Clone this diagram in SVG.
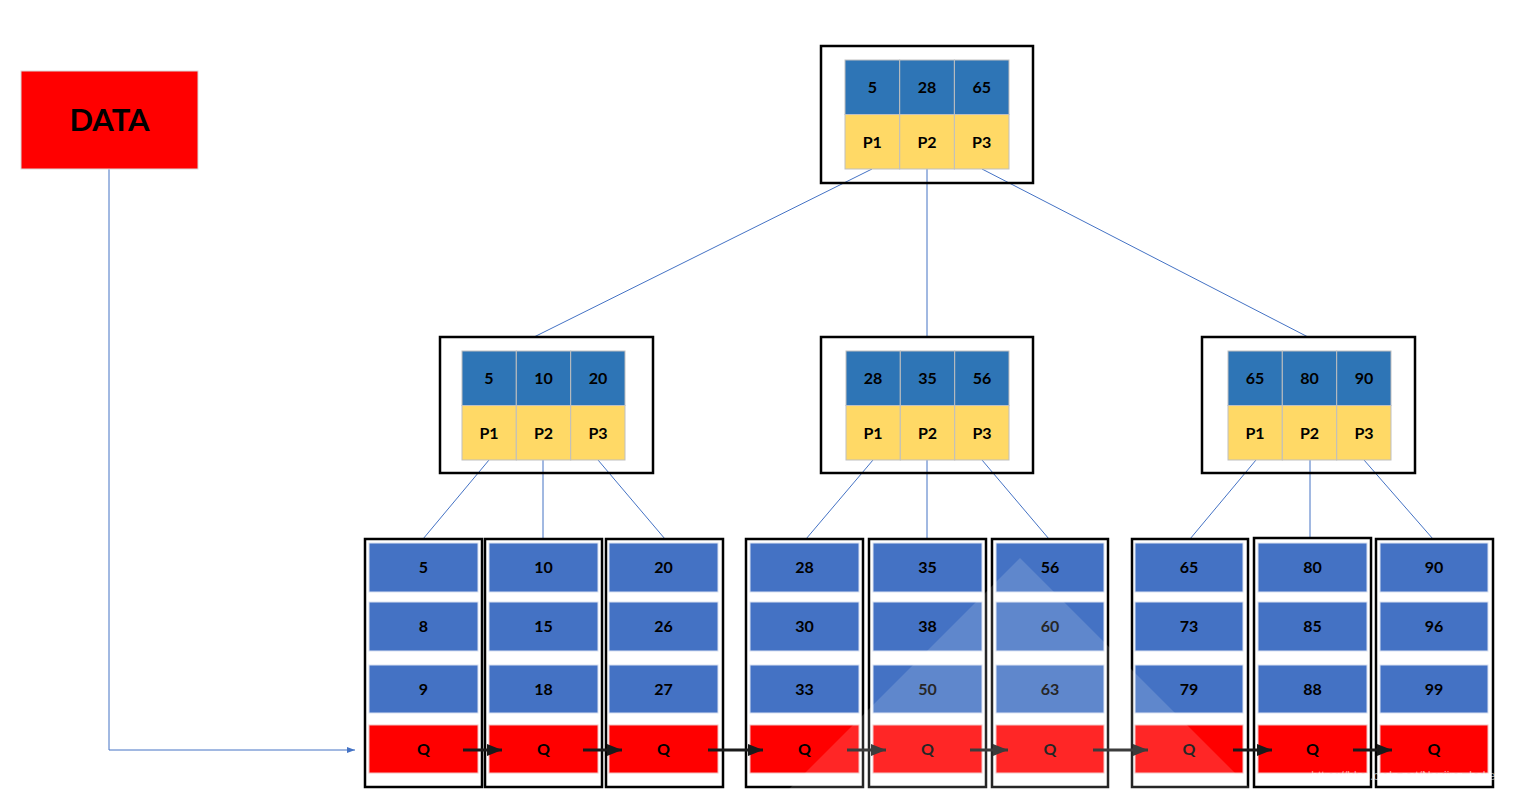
<svg xmlns="http://www.w3.org/2000/svg" width="1521" height="792" viewBox="0 0 1521 792">
<style>
.bg{fill:#ffffff}
.frame{fill:none;stroke:#000000;stroke-width:2.5}
.key{fill:#2E75B6;stroke:#BFBFBF;stroke-width:1}
.ptr{fill:#FFD966;stroke:#BFBFBF;stroke-width:1}
.leafc{fill:#4472C4;stroke:#D9E1F2;stroke-width:1}
.q{fill:#FF0000;stroke:#F2C0C0;stroke-width:1}
.t{font-family:Lato,"Liberation Sans",sans-serif;font-weight:bold;font-size:16px;fill:#000000;text-anchor:middle}
.edge{stroke:#4472C4;stroke-width:1;fill:none}
.chain{stroke:#1a1a1a;stroke-width:3;fill:none}
</style>
<defs>
<marker id="ah" viewBox="0 0 15 12" refX="15" refY="6" markerWidth="15" markerHeight="12" markerUnits="userSpaceOnUse" orient="auto">
<path d="M0,0 L15,6 L0,12 Z" fill="#1a1a1a"/>
</marker>
<marker id="ahb" viewBox="0 0 8 6" refX="8" refY="3" markerWidth="8" markerHeight="6" markerUnits="userSpaceOnUse" orient="auto">
<path d="M0,0 L8,3 L0,6 Z" fill="#4472C4"/>
</marker>
</defs>
<rect class="bg" x="0" y="0" width="1521" height="792"/>

<g id="connectors">
<line class="edge" x1="872" y1="169" x2="534" y2="337"/>
<line class="edge" x1="927" y1="169" x2="927" y2="337"/>
<line class="edge" x1="982" y1="169" x2="1308" y2="337"/>
<line class="edge" x1="489" y1="460" x2="423" y2="539"/>
<line class="edge" x1="543" y1="460" x2="543" y2="539"/>
<line class="edge" x1="598" y1="460" x2="665" y2="539"/>
<line class="edge" x1="873" y1="460" x2="806" y2="539"/>
<line class="edge" x1="927" y1="460" x2="927" y2="539"/>
<line class="edge" x1="982" y1="460" x2="1049" y2="539"/>
<line class="edge" x1="1256" y1="460" x2="1190" y2="539"/>
<line class="edge" x1="1310" y1="460" x2="1310" y2="538"/>
<line class="edge" x1="1364" y1="460" x2="1433" y2="539"/>
<path class="edge" d="M109,169 L109,750 L355,750" marker-end="url(#ahb)"/>
</g>

<g id="data">
<rect x="21" y="71" width="177" height="98" fill="#FF0000" stroke="#D9D9D9" stroke-width="1"/>
<text x="109.5" y="131" font-family="Lato,'Liberation Sans',sans-serif" font-weight="bold" font-size="31" text-anchor="middle" fill="#000">DATA</text>
</g>

<g id="root">
<rect class="frame" x="821" y="46" width="212" height="137"/>
<rect class="key" x="845" y="60" width="54.7" height="54.5"/>
<rect class="key" x="899.7" y="60" width="54.7" height="54.5"/>
<rect class="key" x="954.4" y="60" width="54.6" height="54.5"/>
<rect class="ptr" x="845" y="114.5" width="54.7" height="54.5"/>
<rect class="ptr" x="899.7" y="114.5" width="54.7" height="54.5"/>
<rect class="ptr" x="954.4" y="114.5" width="54.6" height="54.5"/>
<text class="t" x="872.3" y="93">5</text>
<text class="t" x="927" y="93">28</text>
<text class="t" x="981.7" y="93">65</text>
<text class="t" x="872.3" y="147.5">P1</text>
<text class="t" x="927" y="147.5">P2</text>
<text class="t" x="981.7" y="147.5">P3</text>
</g>

<g id="mid-left">
<rect class="frame" x="440" y="337" width="213" height="136"/>
<rect class="key" x="462" y="351" width="54.3" height="54.5"/>
<rect class="key" x="516.3" y="351" width="54.4" height="54.5"/>
<rect class="key" x="570.7" y="351" width="54.3" height="54.5"/>
<rect class="ptr" x="462" y="405.5" width="54.3" height="54.5"/>
<rect class="ptr" x="516.3" y="405.5" width="54.4" height="54.5"/>
<rect class="ptr" x="570.7" y="405.5" width="54.3" height="54.5"/>
<text class="t" x="489" y="384">5</text>
<text class="t" x="543.5" y="384">10</text>
<text class="t" x="598" y="384">20</text>
<text class="t" x="489" y="438.5">P1</text>
<text class="t" x="543.5" y="438.5">P2</text>
<text class="t" x="598" y="438.5">P3</text>
</g>

<g id="mid-center">
<rect class="frame" x="821" y="337" width="212" height="136"/>
<rect class="key" x="846" y="351" width="54.3" height="54.5"/>
<rect class="key" x="900.3" y="351" width="54.4" height="54.5"/>
<rect class="key" x="954.7" y="351" width="54.3" height="54.5"/>
<rect class="ptr" x="846" y="405.5" width="54.3" height="54.5"/>
<rect class="ptr" x="900.3" y="405.5" width="54.4" height="54.5"/>
<rect class="ptr" x="954.7" y="405.5" width="54.3" height="54.5"/>
<text class="t" x="873" y="384">28</text>
<text class="t" x="927.5" y="384">35</text>
<text class="t" x="982" y="384">56</text>
<text class="t" x="873" y="438.5">P1</text>
<text class="t" x="927.5" y="438.5">P2</text>
<text class="t" x="982" y="438.5">P3</text>
</g>

<g id="mid-right">
<rect class="frame" x="1202" y="337" width="213" height="136"/>
<rect class="key" x="1228" y="351" width="54.3" height="54.5"/>
<rect class="key" x="1282.3" y="351" width="54.4" height="54.5"/>
<rect class="key" x="1336.7" y="351" width="54.3" height="54.5"/>
<rect class="ptr" x="1228" y="405.5" width="54.3" height="54.5"/>
<rect class="ptr" x="1282.3" y="405.5" width="54.4" height="54.5"/>
<rect class="ptr" x="1336.7" y="405.5" width="54.3" height="54.5"/>
<text class="t" x="1255" y="384">65</text>
<text class="t" x="1309.5" y="384">80</text>
<text class="t" x="1364" y="384">90</text>
<text class="t" x="1255" y="438.5">P1</text>
<text class="t" x="1309.5" y="438.5">P2</text>
<text class="t" x="1364" y="438.5">P3</text>
</g>

<g id="leaf1">
<rect class="frame" x="365" y="539" width="117" height="248"/>
<rect class="leafc" x="369" y="543" width="109" height="49"/>
<rect class="leafc" x="369" y="602" width="109" height="49"/>
<rect class="leafc" x="369" y="665" width="109" height="48"/>
<rect class="q" x="369" y="725" width="109" height="48"/>
<text class="t" x="423.5" y="573">5</text>
<text class="t" x="423.5" y="632">8</text>
<text class="t" x="423.5" y="694.5">9</text>
<text class="t" x="423.5" y="754.5">Q</text>
</g>
<g id="leaf2">
<rect class="frame" x="485" y="539" width="117" height="248"/>
<rect class="leafc" x="489" y="543" width="109" height="49"/>
<rect class="leafc" x="489" y="602" width="109" height="49"/>
<rect class="leafc" x="489" y="665" width="109" height="48"/>
<rect class="q" x="489" y="725" width="109" height="48"/>
<text class="t" x="543.5" y="573">10</text>
<text class="t" x="543.5" y="632">15</text>
<text class="t" x="543.5" y="694.5">18</text>
<text class="t" x="543.5" y="754.5">Q</text>
</g>
<g id="leaf3">
<rect class="frame" x="606" y="539" width="117" height="248"/>
<rect class="leafc" x="609" y="543" width="109" height="49"/>
<rect class="leafc" x="609" y="602" width="109" height="49"/>
<rect class="leafc" x="609" y="665" width="109" height="48"/>
<rect class="q" x="609" y="725" width="109" height="48"/>
<text class="t" x="663.5" y="573">20</text>
<text class="t" x="663.5" y="632">26</text>
<text class="t" x="663.5" y="694.5">27</text>
<text class="t" x="663.5" y="754.5">Q</text>
</g>
<g id="leaf4">
<rect class="frame" x="746" y="539" width="117" height="248"/>
<rect class="leafc" x="750" y="543" width="109" height="49"/>
<rect class="leafc" x="750" y="602" width="109" height="49"/>
<rect class="leafc" x="750" y="665" width="109" height="48"/>
<rect class="q" x="750" y="725" width="109" height="48"/>
<text class="t" x="804.5" y="573">28</text>
<text class="t" x="804.5" y="632">30</text>
<text class="t" x="804.5" y="694.5">33</text>
<text class="t" x="804.5" y="754.5">Q</text>
</g>
<g id="leaf5">
<rect class="frame" x="869" y="539" width="117" height="248"/>
<rect class="leafc" x="873" y="543" width="109" height="49"/>
<rect class="leafc" x="873" y="602" width="109" height="49"/>
<rect class="leafc" x="873" y="665" width="109" height="48"/>
<rect class="q" x="873" y="725" width="109" height="48"/>
<text class="t" x="927.5" y="573">35</text>
<text class="t" x="927.5" y="632">38</text>
<text class="t" x="927.5" y="694.5">50</text>
<text class="t" x="927.5" y="754.5">Q</text>
</g>
<g id="leaf6">
<rect class="frame" x="992" y="539" width="116" height="248"/>
<rect class="leafc" x="996" y="543" width="108" height="49"/>
<rect class="leafc" x="996" y="602" width="108" height="49"/>
<rect class="leafc" x="996" y="665" width="108" height="48"/>
<rect class="q" x="996" y="725" width="108" height="48"/>
<text class="t" x="1050" y="573">56</text>
<text class="t" x="1050" y="632">60</text>
<text class="t" x="1050" y="694.5">63</text>
<text class="t" x="1050" y="754.5">Q</text>
</g>
<g id="leaf7">
<rect class="frame" x="1132" y="539" width="116" height="248"/>
<rect class="leafc" x="1135" y="543" width="108" height="49"/>
<rect class="leafc" x="1135" y="602" width="108" height="49"/>
<rect class="leafc" x="1135" y="665" width="108" height="48"/>
<rect class="q" x="1135" y="725" width="108" height="48"/>
<text class="t" x="1189" y="573">65</text>
<text class="t" x="1189" y="632">73</text>
<text class="t" x="1189" y="694.5">79</text>
<text class="t" x="1189" y="754.5">Q</text>
</g>
<g id="leaf8">
<rect class="frame" x="1254" y="538" width="117" height="249"/>
<rect class="leafc" x="1258" y="543" width="109" height="49"/>
<rect class="leafc" x="1258" y="602" width="109" height="49"/>
<rect class="leafc" x="1258" y="665" width="109" height="48"/>
<rect class="q" x="1258" y="725" width="109" height="48"/>
<text class="t" x="1312.5" y="573">80</text>
<text class="t" x="1312.5" y="632">85</text>
<text class="t" x="1312.5" y="694.5">88</text>
<text class="t" x="1312.5" y="754.5">Q</text>
</g>
<g id="leaf9">
<rect class="frame" x="1376" y="539" width="117" height="248"/>
<rect class="leafc" x="1380" y="543" width="108" height="49"/>
<rect class="leafc" x="1380" y="602" width="108" height="49"/>
<rect class="leafc" x="1380" y="665" width="108" height="48"/>
<rect class="q" x="1380" y="725" width="108" height="48"/>
<text class="t" x="1434" y="573">90</text>
<text class="t" x="1434" y="632">96</text>
<text class="t" x="1434" y="694.5">99</text>
<text class="t" x="1434" y="754.5">Q</text>
</g>

<g id="chain">
<line class="chain" x1="463" y1="750" x2="502" y2="750" marker-end="url(#ah)"/>
<line class="chain" x1="583" y1="750" x2="622" y2="750" marker-end="url(#ah)"/>
<line class="chain" x1="708" y1="750" x2="763" y2="750" marker-end="url(#ah)"/>
<line class="chain" x1="847" y1="750" x2="886" y2="750" marker-end="url(#ah)"/>
<line class="chain" x1="970" y1="750" x2="1008" y2="750" marker-end="url(#ah)"/>
<line class="chain" x1="1093" y1="750" x2="1148" y2="750" marker-end="url(#ah)"/>
<line class="chain" x1="1233" y1="750" x2="1272" y2="750" marker-end="url(#ah)"/>
<line class="chain" x1="1353" y1="750" x2="1392" y2="750" marker-end="url(#ah)"/>
</g>

<polygon points="1020,558 1254,792 786,792" fill="#ffffff" fill-opacity="0.15"/>
<text x="1408" y="780" font-family="'Liberation Sans',sans-serif" font-size="12" text-anchor="middle" fill="#ffffff" fill-opacity="0.6">https://blog.csdn.net/Nanjing_bokebi</text>
</svg>
